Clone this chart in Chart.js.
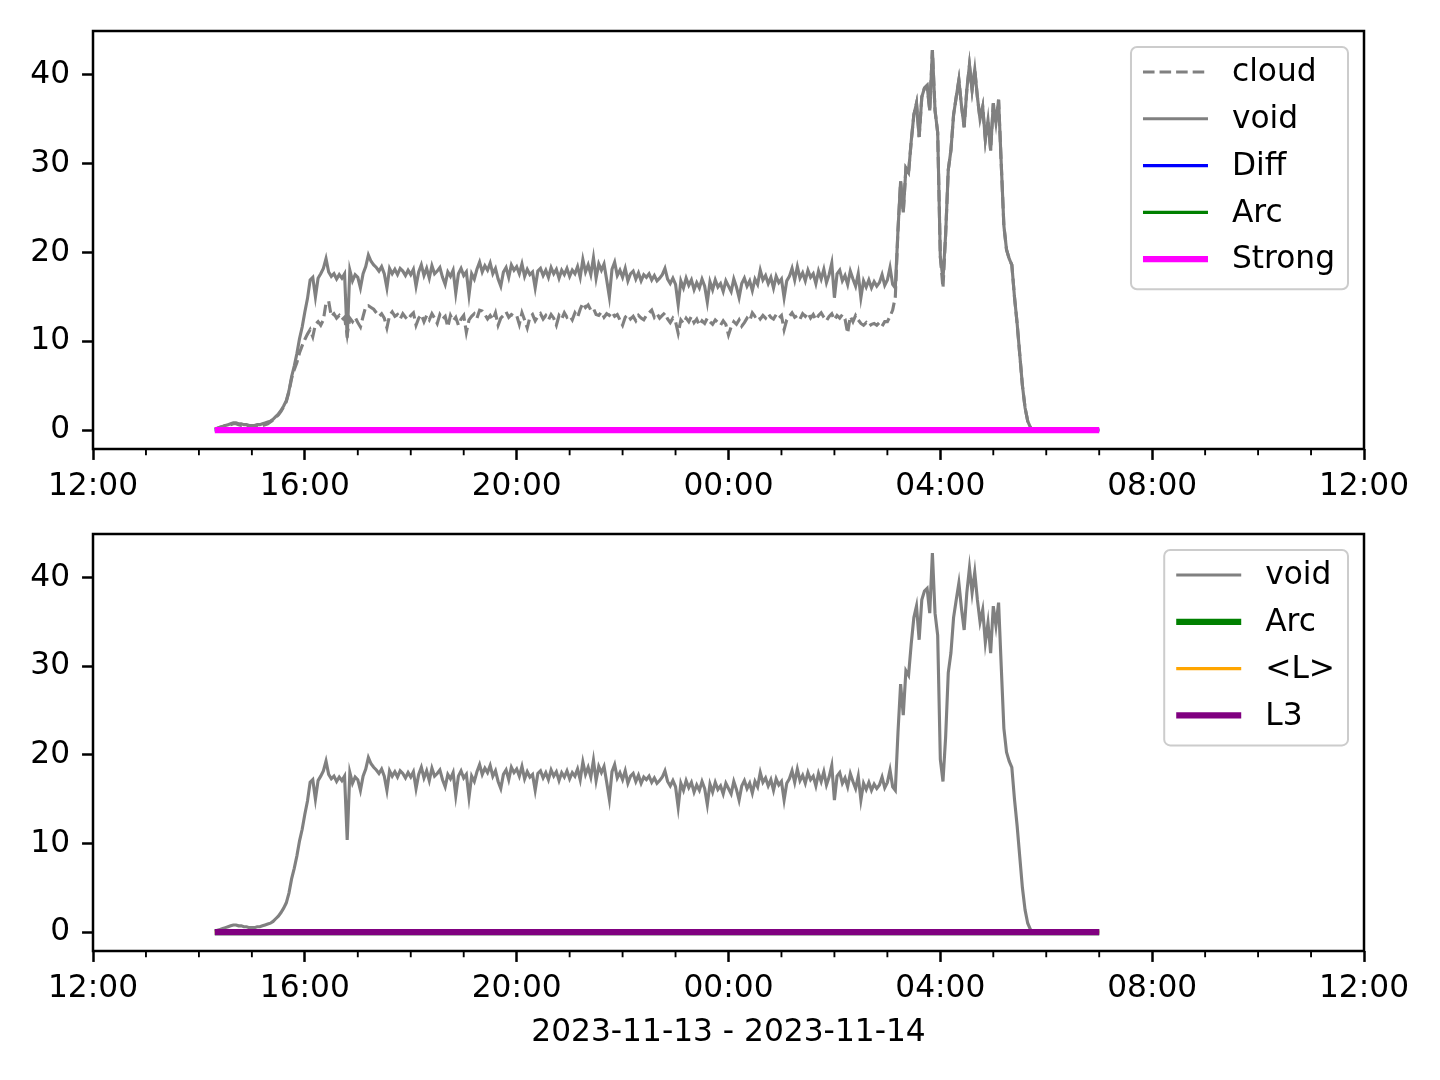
<!DOCTYPE html>
<html>
<head>
<meta charset="utf-8">
<script src="https://cdn.jsdelivr.net/npm/chart.js@4.4.0/dist/chart.umd.min.js"></script>
<style>
  body { margin: 0; background: #fff; }
  #wrap { position: relative; width: 1440px; height: 1080px; }
  canvas { position: absolute; left: 0; }
</style>
</head>
<body>
<div id="wrap">
  <canvas id="topChart" width="1440" height="510" style="top:0"></canvas>
  <canvas id="bottomChart" width="1440" height="570" style="top:510px"></canvas>
</div>
<script>
// x is in hours after 2023-11-13 12:00, one sample every 3 minutes
const seriesStart = 2.30;
const seriesStep = 0.05;

const voidValues = [
  0.1,0.2,0.3,0.4,0.5,0.6,0.7,0.8,0.8,0.7,0.7,0.6,0.6,0.5,
  0.5,0.5,0.6,0.6,0.7, 0.8,0.9,1.0,1.2,1.5, 1.8,2.2,2.7,3.3,4.4, 6.0,7.2,8.6,10.3,11.6,
  13.3,14.8,16.9,17.2,15.0, 17.1,17.6,18.2,19.3,17.8, 17.3,17.6,17.0,17.5,17.1, 17.6,10.4,18.0,16.8,17.5,
  17.2,16.0,17.6,18.4,19.7, 19.0,18.6,18.3,17.9,18.4, 17.6,16.0,18.2,17.6,18.1, 17.5,18.2,17.9,17.4,18.0,
  17.5,18.1,16.2,17.8,18.6, 17.4,18.2,17.1,18.5,17.6, 17.9,18.3,17.2,16.4,17.8, 17.3,18.0,15.4,17.6,18.2,
  17.4,17.8,15.2,17.6,17.0, 18.1,18.9,17.8,18.5,18.0, 18.8,17.6,18.2,17.0,16.2, 17.8,18.3,17.2,18.6,18.0,
  18.4,17.6,18.7,17.3,18.1, 17.5,17.8,16.0,17.9,18.2, 17.4,18.0,17.2,18.3,17.6, 18.1,17.1,18.0,17.5,18.2,
  17.3,18.0,17.6,18.4,17.2, 19.2,17.8,18.6,17.5,19.4, 17.1,18.7,18.0,18.7,16.9, 15.0,18.1,18.9,17.4,18.0,
  17.2,18.2,16.8,17.6,17.9, 17.0,17.7,16.8,17.5,17.2, 17.6,16.9,17.4,16.8,17.1, 17.5,18.2,17.0,16.5,17.1,
  16.4,14.1,16.8,16.0,17.1, 16.3,16.9,15.8,16.6,16.0, 17.0,16.2,14.4,16.7,15.8, 16.9,16.1,16.5,15.6,16.8,
  16.2,15.6,17.0,16.1,14.9, 16.5,17.1,16.2,16.8,15.7, 17.0,16.4,18.0,16.9,17.4, 16.5,17.2,16.0,17.3,16.6,
  17.0,14.9,16.8,17.3,18.2, 16.9,18.4,17.1,17.7,16.8, 18.0,17.2,17.6,16.5,17.9, 17.0,18.1,16.6,17.5,18.8,
  14.9,17.6,18.0,16.8,17.4, 16.4,17.9,17.0,16.2,17.6, 14.9,16.8,16.1,16.9,16.0, 16.7,16.2,16.6,17.5,16.3,
  16.9,18.3,16.4,16.0,22.5, 28.0,24.5,29.5,29.0,32.5, 35.5,36.8,33.0,37.5,38.5, 38.8,36.0,42.8,36.0,33.5,
  19.5,17.0,22.0,29.3,31.5, 35.5,37.5,39.4,36.5,34.1, 38.3,41.1,38.3,40.6,37.5, 35.0,36.4,32.7,34.9,31.5,
  36.8,34.6,37.2,30.0,23.0, 20.3,19.3,18.6,15.0,12.0, 8.5,5.0,2.5,1.0,0.3, 0,0,0,0,0,
  0,0,0,0,0, 0,0,0,0,0, 0,0,0,0,0, 0,0,0,0,0,
  0
];

// cloud up to 16:06 on the 14th; after that it runs on top of void
const cloudValues = [
  0.1,0.2,0.3,0.4,0.5,0.6,0.6,0.7,0.7,0.6,0.5,0.5,0.4,0.4,
  0.3,0.3,0.4,0.4,0.5, 0.6,0.7,0.9,1.1,1.4, 1.7,2.1,2.6,3.2,4.3, 5.8,6.8,7.6,8.7,9.5,
  10.2,10.8,11.3,10.5,11.9, 12.2,11.8,12.4,14.3,14.5, 12.8,13.1,12.6,12.9,12.4, 12.7,10.7,12.6,12.2,12.7,
  12.1,11.6,12.8,13.9,14.0, 13.8,13.6,13.2,12.8,13.1, 12.6,11.5,12.9,13.3,12.8, 13.0,12.5,13.1,12.7,12.4,
  12.9,13.2,11.8,12.6,13.0, 12.2,12.9,12.4,13.1,12.6, 12.0,13.0,12.5,12.8,11.6, 12.9,12.3,12.7,11.8,12.5,
  12.9,11.0,12.4,12.8,13.1, 12.6,13.5,13.4,13.0,12.5, 12.9,12.4,13.2,11.8,12.6, 12.9,13.3,12.7,13.0,12.8,
  12.9,11.9,13.2,12.4,11.5, 12.7,13.0,12.3,12.8,13.1, 12.5,12.9,12.4,13.0,12.6, 11.8,12.9,12.5,13.2,12.7,
  12.9,12.4,13.2,12.7,13.6, 14.3,13.8,14.1,13.5,13.7, 13.0,12.9,13.3,12.7,13.1, 12.9,13.3,12.8,13.0,12.4,
  11.8,12.7,13.0,12.5,12.8, 12.3,12.9,12.6,12.4,12.9, 13.2,13.5,12.7,13.1,12.6, 12.9,13.2,12.5,12.1,12.6,
  12.2,10.9,12.4,12.0,12.6, 12.2,12.8,12.1,12.5,11.8, 12.3,12.0,12.6,12.2,11.9, 12.4,12.1,11.8,12.3,11.9,
  10.7,11.6,12.2,11.9,12.4, 11.7,12.1,12.6,12.3,13.2, 12.8,13.0,12.5,12.9,12.6, 13.1,12.7,12.5,13.0,12.6,
  12.9,11.3,12.4,12.8,13.2, 12.7,12.9,12.5,13.1,12.8, 13.2,12.6,13.0,12.4,12.9, 13.2,12.7,12.3,12.8,13.1,
  12.4,12.9,12.6,13.0,12.5, 10.9,12.8,12.2,12.9,12.4, 12.0,11.8,12.1,11.7,11.9, 12.0,11.8,12.1,11.7,12.2,
  12.2,12.8,13.5,15.0,22.5, 28.0,24.5,29.5,29.0,32.5, 35.5,36.8,33.0,37.5,38.5, 38.8,36.0,42.8,36.0,33.5,
  19.5,16.0,22.0
];

// flat series (Diff, Arc, Strong, <L>, L3)
const flatTimes = [2.30, 19.00];
const flatValues = [0, 0];

const xTickHours = [0, 4, 8, 12, 16, 20, 24];
const xTickLabels = ['12:00', '16:00', '20:00', '00:00', '04:00', '08:00', '12:00'];
const yTicks = [0, 10, 20, 30, 40];
const yMin = -2.14, yMax = 44.94;
const dateLabel = '2023-11-13 - 2023-11-14';

const PT = 225 / 72;  // matplotlib points -> px
const FONT = 'DejaVu Sans';
const FONT_SIZE = 10 * PT;

Chart.defaults.font.family = FONT;
Chart.defaults.font.size = FONT_SIZE;
Chart.defaults.color = '#000';

const toPoints = vals => vals.map((v, i) => ({x: seriesStart + i * seriesStep, y: v}));
const flatPoints = () => flatTimes.map((t, i) => ({x: t, y: flatValues[i]}));

function line(label, data, color, width, order, dash) {
    return {
        label, data, order,
        borderColor: color,
        borderWidth: width,
        borderDash: dash || [],
        pointRadius: 0,
        fill: false,
        tension: 0,
    };
}

function drawLegend(chart) {
    const {ctx, chartArea: a} = chart;
    const sets = chart.data.datasets;
    ctx.font = `${FONT_SIZE}px "${FONT}"`;
    const textW = Math.max(...sets.map(d => ctx.measureText(d.label).width));
    const rowGap = 46.8;
    const w = 12 + 65 + 24 + textW + 13;
    const h = 55 + rowGap * (sets.length - 1);
    const right = a.right - 16, top = a.top + 16, left = right - w;

    ctx.beginPath();
    ctx.roundRect(left, top, w, h, 6);
    ctx.fillStyle = 'rgba(255,255,255,0.8)';
    ctx.fill();
    ctx.strokeStyle = '#cccccc';
    ctx.lineWidth = 2;
    ctx.stroke();

    sets.forEach((d, i) => {
        const cy = top + 25 + i * rowGap;
        ctx.beginPath();
        ctx.setLineDash(d.borderDash);
        ctx.strokeStyle = d.borderColor;
        ctx.lineWidth = d.borderWidth;
        ctx.moveTo(left + 12, cy);
        ctx.lineTo(left + 77, cy);
        ctx.stroke();
        ctx.setLineDash([]);
        ctx.fillStyle = '#000';
        ctx.textBaseline = 'middle';
        ctx.textAlign = 'left';
        ctx.fillText(d.label, left + 101, cy + 1);
    });
}

const framePlugin = {
    id: 'frame',
    afterDraw(chart) {
        const {ctx, chartArea: a} = chart;
        const x = chart.scales.x;
        ctx.save();
        // minor ticks, every hour
        ctx.strokeStyle = '#000';
        ctx.lineWidth = 0.6 * PT;
        for (let hr = 1; hr < 24; hr++) {
            if (hr % 4 === 0) continue;
            const px = x.getPixelForValue(hr);
            ctx.beginPath();
            ctx.moveTo(px, a.bottom);
            ctx.lineTo(px, a.bottom + 2 * PT);
            ctx.stroke();
        }
        // spines
        ctx.lineWidth = 0.8 * PT;
        ctx.strokeRect(a.left, a.top, a.right - a.left, a.bottom - a.top);
        drawLegend(chart);
        ctx.restore();
    }
};

function makeChart(id, datasets, padTop, xHeight, title) {
    return new Chart(document.getElementById(id), {
        type: 'line',
        data: {datasets},
        options: {
            responsive: false,
            animation: false,
            events: [],
            layout: {padding: {top: padTop, right: 76, left: 0, bottom: 0}},
            plugins: {legend: {display: false}, tooltip: {enabled: false}},
            scales: {
                x: {
                    type: 'linear', min: 0, max: 24,
                    afterBuildTicks: s => { s.ticks = xTickHours.map(v => ({value: v})); },
                    afterFit: s => { s.height = xHeight; s.paddingLeft = 0; s.paddingRight = 0; },
                    ticks: {
                        callback: (v, i) => xTickLabels[i],
                        padding: 8, maxRotation: 0, autoSkip: false,
                    },
                    grid: {drawOnChartArea: false, tickLength: 3.5 * PT, tickWidth: 0.8 * PT, tickColor: '#000'},
                    border: {display: false},
                    title: title
                        ? {display: true, text: title, padding: {top: 0, bottom: 28}}
                        : {display: false},
                },
                y: {
                    min: yMin, max: yMax,
                    afterBuildTicks: s => { s.ticks = yTicks.map(v => ({value: v})); },
                    afterFit: s => { s.width = 93; s.paddingTop = 0; s.paddingBottom = 0; },
                    ticks: {callback: v => String(v), padding: 12},
                    grid: {drawOnChartArea: false, tickLength: 3.5 * PT, tickWidth: 0.8 * PT, tickColor: '#000'},
                    border: {display: false},
                },
            },
        },
        plugins: [framePlugin],
    });
}

const cloudPoints = toPoints(cloudValues.concat(voidValues.slice(cloudValues.length)));

makeChart('topChart', [
    line('cloud', cloudPoints, '#808080', PT, 5, [3.7 * PT, 1.6 * PT]),
    line('void', toPoints(voidValues), '#808080', PT, 4),
    line('Diff', flatPoints(), '#0000ff', PT, 3),
    line('Arc', flatPoints(), '#008000', PT, 2),
    line('Strong', flatPoints(), '#ff00ff', 2 * PT, 1),
], 31, 61, null);

makeChart('bottomChart', [
    line('void', toPoints(voidValues), '#808080', PT, 4),
    line('Arc', flatPoints(), '#008000', 2 * PT, 3),
    line('<L>', flatPoints(), '#ffa500', PT, 2),
    line('L3', flatPoints(), '#800080', 2 * PT, 1),
], 24, 129, dateLabel);
</script>
</body>
</html>
